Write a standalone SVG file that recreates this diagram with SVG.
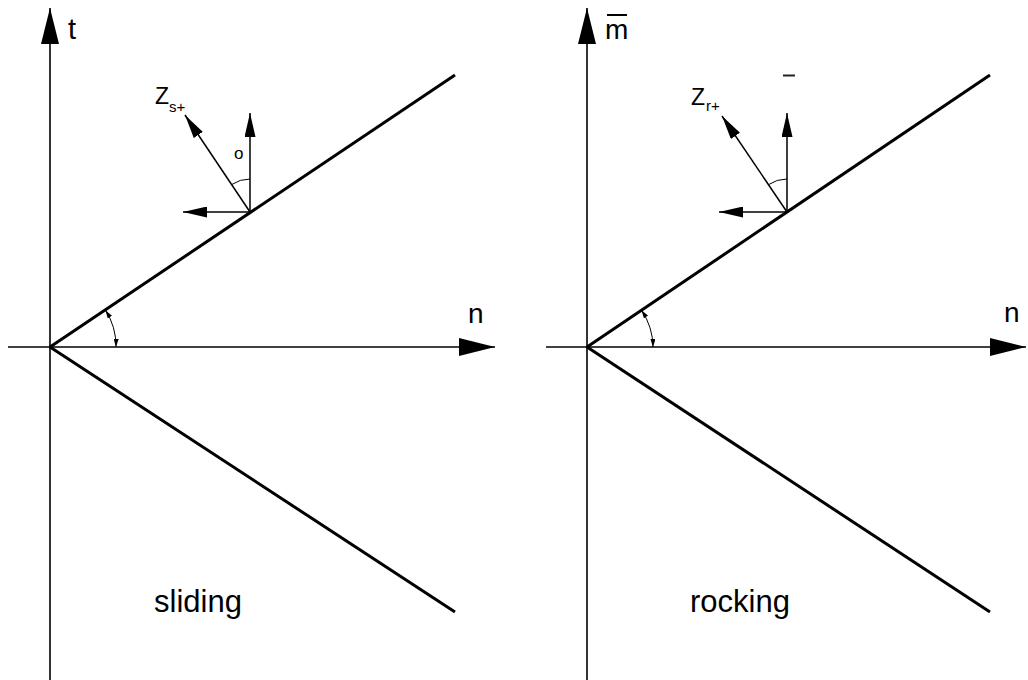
<svg xmlns="http://www.w3.org/2000/svg" width="1028" height="680" viewBox="0 0 1028 680">
<style>
.ax{stroke:#000;stroke-width:1.6;fill:none}
.yl{stroke:#000;stroke-width:3;fill:none}
.vec{stroke:#000;stroke-width:1.5;fill:none}
.arc{stroke:#000;stroke-width:1;fill:none}
.lbl{font-family:"Liberation Sans",Arial,sans-serif;fill:#000}
</style>
<defs>
<marker id="big" markerUnits="userSpaceOnUse" markerWidth="36" markerHeight="18" refX="36" refY="9" orient="auto"><path d="M0,0 L36,9 L0,18 Z" fill="#000"/></marker>
<marker id="mid" markerUnits="userSpaceOnUse" markerWidth="24" markerHeight="11" refX="24" refY="5.5" orient="auto"><path d="M0,0 L24,5.5 L0,11 Z" fill="#000"/></marker>
<marker id="sm" markerUnits="userSpaceOnUse" markerWidth="8" markerHeight="5" refX="8" refY="2.5" orient="auto-start-reverse"><path d="M0,0 L8,2.5 L0,5 Z" fill="#000"/></marker>
</defs>
<g id="connectors">
<line class="ax" x1="50" y1="680" x2="50" y2="8" marker-end="url(#big)"/>
<line class="ax" x1="8" y1="347" x2="495" y2="347" marker-end="url(#big)"/>
<line class="yl" x1="50" y1="347" x2="455" y2="75"/>
<line class="yl" x1="50" y1="347" x2="455" y2="612"/>
<line class="vec" x1="250" y1="212" x2="250" y2="113" marker-end="url(#mid)"/>
<line class="vec" x1="250" y1="212" x2="183" y2="212" marker-end="url(#mid)"/>
<line class="vec" x1="250" y1="212" x2="185" y2="115" marker-end="url(#mid)"/>
<path class="arc" d="M250,179 A33,33 0 0 0 231.6,184.6"/>
<path class="arc" d="M105.5,310.3 A66,66 0 0 1 116,347" marker-start="url(#sm)" marker-end="url(#sm)"/>
<line class="ax" x1="587" y1="680" x2="587" y2="8" marker-end="url(#big)"/>
<line class="ax" x1="546" y1="347" x2="1026" y2="347" marker-end="url(#big)"/>
<line class="yl" x1="587" y1="347" x2="990" y2="75"/>
<line class="yl" x1="587" y1="347" x2="990" y2="612"/>
<line class="vec" x1="787" y1="212" x2="787" y2="113" marker-end="url(#mid)"/>
<line class="vec" x1="787" y1="212" x2="719" y2="212" marker-end="url(#mid)"/>
<line class="vec" x1="787" y1="212" x2="722" y2="116" marker-end="url(#mid)"/>
<path class="arc" d="M787,179 A33,33 0 0 0 768.6,184.6"/>
<path class="arc" d="M641.5,310.3 A66,66 0 0 1 653,347" marker-start="url(#sm)" marker-end="url(#sm)"/>
</g>
<g id="left-labels">
<text class="lbl" x="68" y="39" font-size="29">t</text>
<text class="lbl" x="468" y="323" font-size="28">n</text>
<text class="lbl" x="155" y="104" font-size="23">Z</text>
<text class="lbl" x="169" y="112" font-size="15">s+</text>
<text class="lbl" x="234" y="159" font-size="17">o</text>
<text class="lbl" x="154" y="612" font-size="31">sliding</text>
</g>
<g id="right-labels">
<text class="lbl" x="605" y="39" font-size="28">m</text>
<line x1="607" y1="15" x2="627" y2="15" stroke="#000" stroke-width="2"/>
<text class="lbl" x="1004" y="322" font-size="28">n</text>
<text class="lbl" x="691" y="105" font-size="23">Z</text>
<text class="lbl" x="706" y="111" font-size="15">r+</text>
<line x1="783" y1="75.5" x2="795" y2="75.5" stroke="#222" stroke-width="2"/>
<text class="lbl" x="690" y="612" font-size="31">rocking</text>
</g>
</svg>
